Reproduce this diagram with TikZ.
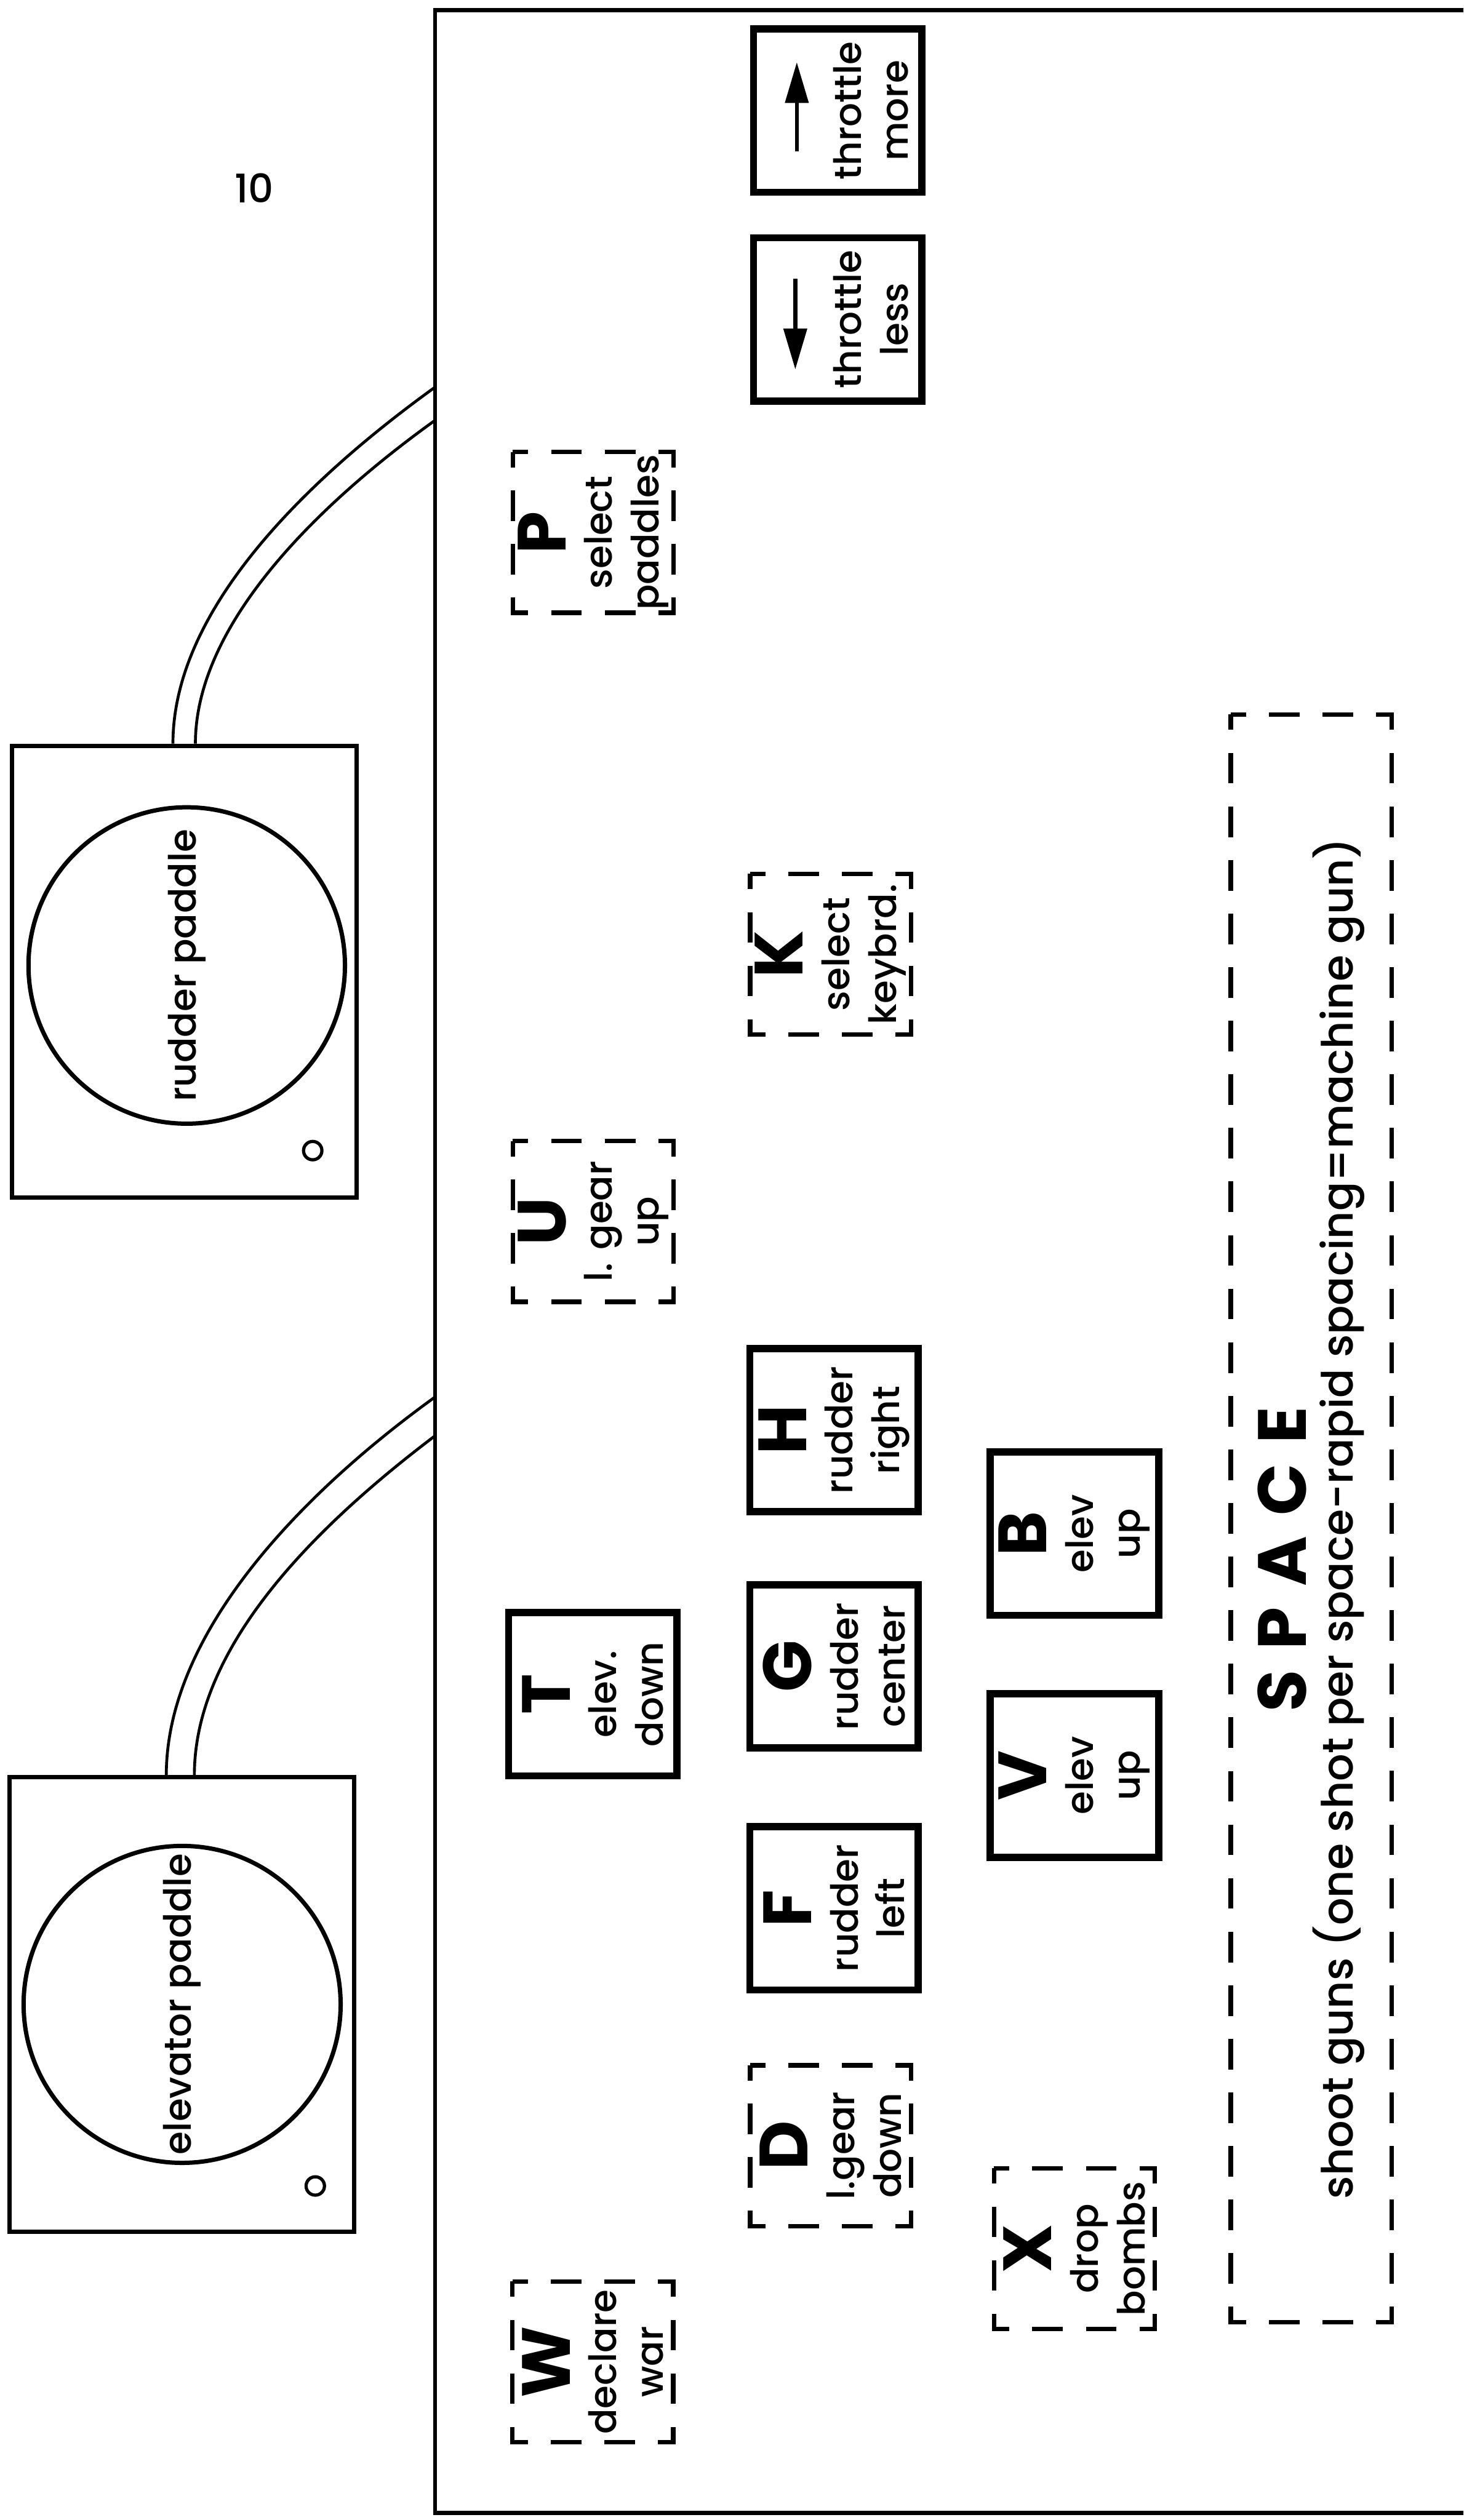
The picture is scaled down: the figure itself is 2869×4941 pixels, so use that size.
\documentclass[tikz,border=0pt]{standalone}
\usepackage{fontspec}
\setmainfont{Poppins}[UprightFont=* Medium, BoldFont=* Bold]
\usetikzlibrary{positioning, arrows.meta}

\newcommand{\keyletter}[1]{{\fontsize{38}{26}\selectfont\bfseries #1}}
\newcommand{\keytext}{\fontsize{21}{26}\selectfont}
\newcommand{\padtext}{\fontsize{21}{24}\selectfont}

\begin{document}
\begin{tikzpicture}
    [
        x=0.01cm, y=-0.01cm,
        on grid,
        key/.style={draw, line width=4pt, rotate=90, minimum width=3.2cm, minimum height=3.3cm, inner sep=0pt, align=center, font=\keytext},
        dashkey/.style={draw, line width=2.5pt, dash pattern=on 0.6cm off 0.45cm, dash phase=0.3cm, rotate=90, minimum width=3.15cm, minimum height=3.15cm, inner sep=0pt, align=center, font=\keytext},
        padbox/.style={draw, rectangle, line width=2.4pt, minimum width=6.75cm, minimum height=8.85cm},
        paddle/.style={draw, circle, line width=2.4pt, minimum size=6.2cm, rotate=90, font=\padtext},
        knob/.style={draw, circle, line width=1.8pt, minimum size=0.36cm, inner sep=0pt},
        cable/.style={line width=1.6pt},
        thrarrow/.style={line width=2.2pt, -{Triangle[length=0.8cm, width=0.45cm]}}
    ]
        \useasboundingbox (0,0) rectangle (2869,4941);
        % =========================================================================
        % PANEL
        % =========================================================================
        \draw [line width=2.2pt] (2869,20) -- (853,20) -- (853,4927) -- (2869,4927);
        \coordinate (rudjackA) at (853,759);
        \coordinate (rudjackB) at (853,824);
        \coordinate (elevjackA) at (853,2739);
        \coordinate (elevjackB) at (853,2815);
        \node (pagenum) at (498,369) {\fontsize{22}{24}\selectfont 10};

        % =========================================================================
        % PADDLES
        % =========================================================================
        % --- rudder ---
        \node [padbox] (rudbox) at (361,1905) {};
        \node [paddle] (rudpad) at (366,1893) {rudder paddle};
        \node [knob] (rudknob) at (613,2256) {};
        % --- elevator ---
        \node [padbox, minimum height=8.9cm] (elevbox) at (356,3930) {};
        \node [paddle] (elevpad) at (357,3930) {elevator paddle};
        \node [knob] (elevknob) at (618,4286) {};

        % =========================================================================
        % KEYS
        % =========================================================================
        % --- throttle ---
        \node [key] (thrmore) at (1642,217) {\keyletter{\phantom{T}}\\throttle\\more};
        \node [key, below=4.09cm of thrmore] (thrless) {\keyletter{\phantom{T}}\\throttle\\less};
        % --- rudder ---
        \node [key] (keyH) at (1635,2804) {\keyletter{H}\\rudder\\right};
        \node [key, below=4.63cm of keyH] (keyG) {\keyletter{G}\\rudder\\center};
        \node [key, below=4.74cm of keyG] (keyF) {\keyletter{F}\\rudder\\left};
        % --- elevator ---
        \node [key] (keyT) at (1162,3322) {\keyletter{T}\\elev.\\down};
        \node [key] (keyB) at (2106,3007) {\keyletter{B}\\elev\\up};
        \node [key, below=4.74cm of keyB] (keyV) {\keyletter{V}\\elev\\up};
        % --- dashed ---
        \node [dashkey] (keyP) at (1163,1044) {\keyletter{P}\\select\\paddles};
        \node [dashkey, below=13.5cm of keyP] (keyU) {\keyletter{U}\\l. gear\\up};
        \node [dashkey] (keyK) at (1628,1871) {\keyletter{K}\\select\\keybrd.};
        \node [dashkey] (keyD) at (1628,4207) {\keyletter{D}\\l.gear\\down};
        \node [dashkey] (keyX) at (2106,4409) {\keyletter{X}\\drop\\bombs};
        \node [dashkey] (keyW) at (1162,4631) {\keyletter{W}\\declare\\war};
        \node [dashkey, minimum width=31.5cm] (space) at (2570,2977)
            {\keyletter{S\hspace{0.3em}P\hspace{0.3em}A\hspace{0.3em}C\hspace{0.3em}E}\kern1.6cm\\
             {\fontsize{24}{30}\selectfont shoot guns (one shot per space-rapid spacing=machine gun)}};

        % =========================================================================
        % PATHS
        % =========================================================================
        % --- cables ---
        \draw [cable] (rudjackA) .. controls +(-251,181) and +(0,-264) .. ([xshift=-0.22cm]rudbox.north);
        \draw [cable] (rudjackB) .. controls +(-231,166) and +(0,-234) .. ([xshift=0.22cm]rudbox.north);
        \draw [cable] (elevjackA) .. controls +(-251,181) and +(0,-285) .. ([xshift=-0.3cm]elevbox.north);
        \draw [cable] (elevjackB) .. controls +(-231,175) and +(0,-255) .. ([xshift=0.25cm]elevbox.north);
        % --- throttle arrows ---
        \draw [thrarrow] ([xshift=-0.8cm, yshift=-0.8cm]thrmore.center) -- ([xshift=-0.8cm, yshift=0.95cm]thrmore.center);
        \draw [thrarrow] ([xshift=-0.83cm, yshift=0.8cm]thrless.center) -- ([xshift=-0.83cm, yshift=-0.98cm]thrless.center);
    \end{tikzpicture}
\end{document}
